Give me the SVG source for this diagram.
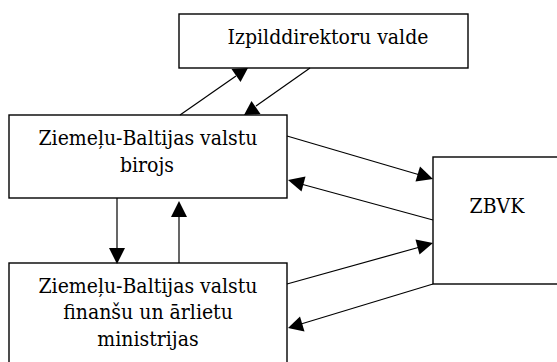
<svg xmlns="http://www.w3.org/2000/svg" width="557" height="362" viewBox="0 0 557 362">
<style>
.box{fill:#fff;stroke:#000;stroke-width:1.4}
.t{font-family:"DejaVu Serif",serif;font-stretch:condensed;font-size:21px;fill:#000;text-anchor:middle}
.c{fill:none;stroke:#000;stroke-width:1.2}
.h{fill:#000;stroke:none}
</style>
<rect width="557" height="362" fill="#fff"/>
<g id="node-valde">
<rect class="box" x="179" y="14" width="289" height="54"/>
<text class="t" x="328" y="44">Izpilddirektoru valde</text>
</g>
<g id="node-birojs">
<rect class="box" x="9" y="115" width="278" height="83"/>
<text class="t" x="148" y="145">Ziemeļu-Baltijas valstu</text>
<text class="t" x="147" y="172">birojs</text>
</g>
<g id="node-ministrijas">
<rect class="box" x="9" y="263" width="278" height="102"/>
<text class="t" x="148" y="293">Ziemeļu-Baltijas valstu</text>
<text class="t" x="148" y="319">finanšu un ārlietu</text>
<text class="t" x="148" y="346">ministrijas</text>
</g>
<g id="node-zbvk">
<rect class="box" x="433" y="157" width="130" height="127"/>
<text class="t" x="497" y="213">ZBVK</text>
</g>
<g id="connectors">
<line class="c" x1="180" y1="115" x2="236" y2="76"/>
<polygon class="h" points="248,68 240.5,82 231.5,69"/>
<line class="c" x1="310" y1="68" x2="256" y2="106"/>
<polygon class="h" points="244,115 251.5,101 260.5,114"/>
<line class="c" x1="117" y1="198" x2="117" y2="250"/>
<polygon class="h" points="117,264 109,248 125,248"/>
<line class="c" x1="179" y1="263" x2="179" y2="215"/>
<polygon class="h" points="179,201 171,217 187,217"/>
<line class="c" x1="287" y1="136" x2="420" y2="175"/>
<polygon class="h" points="433,179 415.5,181.5 420,166.5"/>
<line class="c" x1="433" y1="220" x2="301" y2="184"/>
<polygon class="h" points="288,180 305.5,176.5 301.5,191.5"/>
<line class="c" x1="287" y1="284" x2="420" y2="247"/>
<polygon class="h" points="433,243 419.5,254.5 415.5,239.5"/>
<line class="c" x1="433" y1="284" x2="301" y2="324"/>
<polygon class="h" points="288,328 300,316.5 304.5,331.5"/>
</g>
</svg>
